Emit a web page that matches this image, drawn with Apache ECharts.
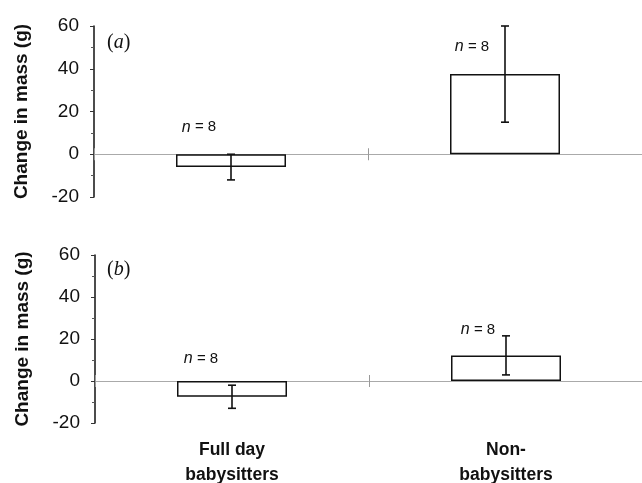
<!DOCTYPE html>
<html>
<head>
<meta charset="utf-8">
<script src="https://cdn.jsdelivr.net/npm/echarts@6/dist/echarts.min.js"></script>
<style>
  html, body { margin: 0; padding: 0; background: #fff; }
  #chartmain { width: 642px; height: 483px; }
</style>
</head>
<body>
<div id="chartmain"></div>
<script>
// data
var categories = ['Full day\nbabysitters', 'Non-\nbabysitters'];
var meanA = [-6, 37.5];
var errA = [6, 22.5];
var meanB = [-7.5, 12.2];
var errB = [5.5, 9.3];
var sampleN = [8, 8];
var yTicks = [-20, 0, 20, 40, 60];

// pixel offsets of the "n = 8" notes from the top of each error bar
var noteOffsetA = [[-32, -27], [-33, 21]];
var noteOffsetB = [[-31, -22], [-28, -6]];

var font = 'Liberation Sans, Arial, sans-serif';

function yAxisFor(grid) {
	return {
		type: 'value',
		gridIndex: grid,
		min: yTicks[0],
		max: yTicks[yTicks.length - 1],
		interval: 20,
		name: 'Change in mass (g)',
		nameLocation: 'middle',
		nameGap: 63,
		nameTextStyle: { fontFamily: font, fontWeight: 'bold', fontSize: 19, color: '#111' },
		axisLine: { show: true, lineStyle: { color: '#111', width: 1.5 } },
		axisTick: { show: true, length: 4, lineStyle: { color: '#333' } },
		minorTick: { show: true, splitNumber: 2, length: 3, lineStyle: { color: '#555' } },
		splitLine: { show: false },
		axisLabel: { fontFamily: font, fontSize: 19, color: '#111', margin: 15 }
	};
}

function zeroAxes(grid, yIndex, withLabels) {
	var list = [{
		type: 'category',
		gridIndex: grid,
		data: categories,
		position: 'bottom',
		axisLine: { onZero: true, onZeroAxisIndex: yIndex, lineStyle: { color: '#aaa', width: 1 } },
		axisTick: { show: true, length: 6, lineStyle: { color: '#999' } },
		axisLabel: { show: false }
	}, {
		type: 'category',
		gridIndex: grid,
		data: categories,
		position: 'top',
		axisLine: { show: false, onZero: true, onZeroAxisIndex: yIndex },
		axisTick: { show: true, length: 6, lineStyle: { color: '#999' } },
		axisLabel: { show: false }
	}];
	if (withLabels) {
		list.push({
			type: 'category',
			gridIndex: grid,
			data: categories,
			position: 'bottom',
			axisLine: { show: false, onZero: false },
			axisTick: { show: false },
			axisLabel: { fontFamily: font, fontWeight: 'bold', fontSize: 17.5, color: '#111', margin: 15, lineHeight: 25 }
		});
	}
	return list;
}

function barSeries(xIdx, yIdx, mean) {
	return {
		type: 'bar',
		xAxisIndex: xIdx,
		yAxisIndex: yIdx,
		data: mean,
		barWidth: 110,
		itemStyle: { color: '#fff', borderColor: '#111', borderWidth: 1.5 },
		z: 3
	};
}

function errSeries(xIdx, yIdx, mean, err) {
	var d = [];
	for (var i = 0; i < mean.length; i++) {
		d.push([i, mean[i] - err[i], mean[i] + err[i]]);
	}
	return {
		type: 'custom',
		xAxisIndex: xIdx,
		yAxisIndex: yIdx,
		data: d,
		z: 5,
		renderItem: function (params, api) {
			var lo = api.coord([api.value(0), api.value(1)]);
			var hi = api.coord([api.value(0), api.value(2)]);
			var x = hi[0], w = 4;
			var st = { stroke: '#111', lineWidth: 1.6 };
			return {
				type: 'group',
				children: [
					{ type: 'line', shape: { x1: x, y1: hi[1], x2: x, y2: lo[1] }, style: st },
					{ type: 'line', shape: { x1: x - w, y1: hi[1], x2: x + w, y2: hi[1] }, style: st },
					{ type: 'line', shape: { x1: x - w, y1: lo[1], x2: x + w, y2: lo[1] }, style: st }
				]
			};
		}
	};
}

function noteSeries(xIdx, yIdx, mean, err, offsets) {
	var d = [];
	for (var i = 0; i < mean.length; i++) {
		d.push([i, Math.max(0, mean[i] + err[i]), sampleN[i]]);
	}
	return {
		type: 'custom',
		xAxisIndex: xIdx,
		yAxisIndex: yIdx,
		data: d,
		z: 6,
		renderItem: function (params, api) {
			var p = api.coord([api.value(0), api.value(1)]);
			var off = offsets[params.dataIndex];
			return {
				type: 'text',
				x: p[0] + off[0],
				y: p[1] + off[1],
				style: {
					text: '{i|n} = ' + api.value(2),
					align: 'center',
					verticalAlign: 'middle',
					fontFamily: font,
					fontSize: 15,
					fill: '#111',
					rich: { i: { fontStyle: 'italic', fontFamily: font, fontSize: 16, fill: '#111' } }
				}
			};
		}
	};
}

var xAxes = zeroAxes(0, 0, false).concat(zeroAxes(1, 1, true));

var option = {
	animation: false,
	backgroundColor: '#fff',
	title: [{
		text: '({i|a})',
		left: 102, top: 28,
		textStyle: { fontFamily: 'Liberation Serif, serif', fontSize: 20, fontWeight: 'normal', color: '#111',
			rich: { i: { fontFamily: 'Liberation Serif, serif', fontStyle: 'italic', fontSize: 20, color: '#111' } } }
	}, {
		text: '({i|b})',
		left: 102, top: 255,
		textStyle: { fontFamily: 'Liberation Serif, serif', fontSize: 20, fontWeight: 'normal', color: '#111',
			rich: { i: { fontFamily: 'Liberation Serif, serif', fontStyle: 'italic', fontSize: 20, color: '#111' } } }
	}],
	grid: [
		{ left: 94, top: 26, width: 548, height: 171, outerBoundsMode: 'none', containLabel: false },
		{ left: 95, top: 255, width: 548, height: 168, outerBoundsMode: 'none', containLabel: false }
	],
	xAxis: xAxes,
	yAxis: [yAxisFor(0), yAxisFor(1)],
	series: [
		barSeries(0, 0, meanA),
		errSeries(0, 0, meanA, errA),
		noteSeries(0, 0, meanA, errA, noteOffsetA),
		barSeries(2, 1, meanB),
		errSeries(2, 1, meanB, errB),
		noteSeries(2, 1, meanB, errB, noteOffsetB)
	]
};

var myChart = echarts.init(document.getElementById('chartmain'));
myChart.setOption(option);
</script>
</body>
</html>
